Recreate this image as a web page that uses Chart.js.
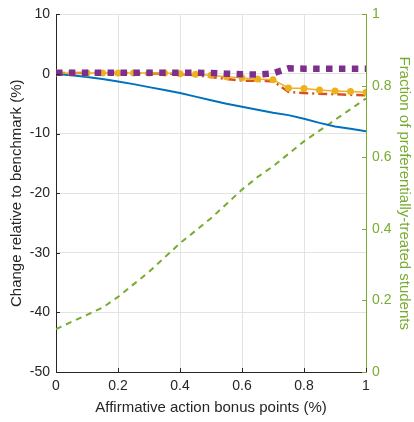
<!DOCTYPE html>
<html>
<head>
<meta charset="utf-8">
<script src="https://cdn.jsdelivr.net/npm/chart.js@4"></script>
<style>
  html, body { margin: 0; padding: 0; background: #ffffff; }
  #wrap { width: 414px; height: 422px; }
</style>
</head>
<body>
<div id="wrap"><canvas id="c" width="414" height="422"></canvas></div>
<script>
// Bonus points awarded (share of max score)
const bonusPoints = [0, 0.05, 0.1, 0.15, 0.2, 0.25, 0.3, 0.35, 0.4, 0.45, 0.5,
                     0.55, 0.6, 0.65, 0.7, 0.75, 0.8, 0.85, 0.9, 0.95, 1];

// Change relative to benchmark (%), left axis
const seriesBlue   = [0, -0.2, -0.5, -0.85, -1.25, -1.7, -2.2, -2.7, -3.2, -3.8, -4.4,
                      -5.0, -5.5, -6.0, -6.5, -6.9, -7.5, -8.2, -8.8, -9.2, -9.6];
const seriesRed    = [0.15, 0.15, 0.15, 0.15, 0.15, 0.15, 0.1, 0.05, 0, -0.2, -0.5,
                      -0.85, -1.1, -1.15, -1.2, -3.0, -3.2, -3.3, -3.4, -3.5, -3.55];
const seriesOrange = [0.17, 0.17, 0.17, 0.17, 0.17, 0.17, 0.17, 0.15, 0.05, -0.05, -0.2,
                      -0.45, -0.65, -0.85, -0.95, -2.35, -2.45, -2.7, -2.85, -2.95, -3.05];
const seriesPurple = [0.2, 0.2, 0.2, 0.2, 0.2, 0.2, 0.2, 0.2, 0.2, 0.2, 0.15,
                      0.05, -0.05, -0.1, 0.1, 0.95, 0.9, 0.9, 0.9, 0.9, 0.9];

// Fraction of preferentially-treated students, right axis
const fractionTreated = [0.12, 0.14, 0.16, 0.18, 0.21, 0.245, 0.28, 0.32, 0.36, 0.395, 0.43,
                         0.47, 0.51, 0.545, 0.575, 0.61, 0.645, 0.675, 0.705, 0.735, 0.765];

// Tick values
const xTicks      = [0, 0.2, 0.4, 0.6, 0.8, 1];
const leftTicks   = [-50, -40, -30, -20, -10, 0, 10];
const rightTicks  = [0, 0.2, 0.4, 0.6, 0.8, 1];

const DARK  = '#262626';
const GREEN = '#77AC30';
const GRID  = '#e3e3e3';
const FONT  = "'Liberation Sans', Arial, Helvetica, sans-serif";

const pts = arr => arr.map((v, i) => ({ x: bonusPoints[i], y: v }));
const fmt = v => String(Math.round(v * 10) / 10);

// Draws short tick marks pointing into the plot area
const inwardTicks = {
  id: 'inwardTicks',
  afterDatasetsDraw(chart) {
    const { ctx, chartArea: a, scales } = chart;
    const len = 4;
    ctx.save();
    ctx.lineWidth = 1;
    ctx.strokeStyle = DARK;
    ctx.beginPath();
    xTicks.forEach(t => {
      const px = Math.round(scales.x.getPixelForValue(t)) + 0.5;
      ctx.moveTo(px, a.bottom);
      ctx.lineTo(px, a.bottom - len);
    });
    leftTicks.forEach(t => {
      const py = Math.round(scales.y.getPixelForValue(t)) + 0.5;
      ctx.moveTo(a.left, py);
      ctx.lineTo(a.left + len, py);
    });
    ctx.stroke();
    ctx.strokeStyle = GREEN;
    ctx.beginPath();
    rightTicks.forEach(t => {
      const py = Math.round(scales.y1.getPixelForValue(t)) + 0.5;
      ctx.moveTo(a.right, py);
      ctx.lineTo(a.right - len, py);
    });
    ctx.stroke();
    ctx.restore();
  }
};

new Chart(document.getElementById('c'), {
  type: 'line',
  data: {
    datasets: [
      {
        data: pts(seriesPurple), borderColor: '#7E2F8E', borderWidth: 6.5,
        borderDash: [6.5, 6.4], borderCapStyle: 'butt', pointRadius: 0, tension: 0
      },
      {
        data: pts(seriesOrange), borderColor: '#EDB120', backgroundColor: '#EDB120',
        borderWidth: 1.5, pointRadius: 3.5, pointBorderWidth: 0, pointBackgroundColor: '#EDB120'
      },
      {
        data: pts(seriesRed), borderColor: '#D95319', borderWidth: 2.5,
        borderDash: [9, 4, 2, 4], pointRadius: 0
      },
      {
        data: pts(seriesBlue), borderColor: '#0072BD', borderWidth: 2, pointRadius: 0
      },
      {
        data: pts(fractionTreated), yAxisID: 'y1', borderColor: GREEN, borderWidth: 2,
        borderDash: [6, 5], pointRadius: 0
      }
    ]
  },
  options: {
    responsive: false,
    animation: false,
    devicePixelRatio: 1,
    layout: { padding: { top: 14, left: 0, right: 0, bottom: 0 } },
    plugins: { legend: { display: false }, tooltip: { enabled: false } },
    scales: {
      x: {
        type: 'linear', min: 0, max: 1,
        afterBuildTicks: s => { s.ticks = xTicks.map(v => ({ value: v })); },
        afterFit: s => { s.height = 50; },
        grid: { color: GRID, drawTicks: false },
        border: { color: DARK, width: 1 },
        ticks: { color: DARK, padding: 6, font: { family: FONT, size: 14 }, maxRotation: 0,
                 callback: v => fmt(v) },
        title: { display: true, text: 'Affirmative action bonus points (%)', color: DARK,
                 font: { family: FONT, size: 15 }, padding: { top: 0, bottom: 5 } }
      },
      y: {
        position: 'left', min: -50, max: 10,
        afterBuildTicks: s => { s.ticks = leftTicks.map(v => ({ value: v })); },
        afterFit: s => { s.width = 56; },
        grid: { color: GRID, drawTicks: false },
        border: { color: DARK, width: 1 },
        ticks: { color: DARK, padding: 6, font: { family: FONT, size: 14 }, callback: v => fmt(v) },
        title: { display: true, text: 'Change relative to benchmark (%)', color: DARK,
                 font: { family: FONT, size: 15 }, padding: { top: 8, bottom: 0 } }
      },
      y1: {
        position: 'right', min: 0, max: 1,
        afterBuildTicks: s => { s.ticks = rightTicks.map(v => ({ value: v })); },
        afterFit: s => { s.width = 48; },
        grid: { display: false, drawTicks: false },
        border: { color: GREEN, width: 1 },
        ticks: { color: GREEN, padding: 6, font: { family: FONT, size: 14 }, callback: v => fmt(v) },
        title: { display: true, text: 'Fraction of preferentially-treated students', color: GREEN,
                 font: { family: FONT, size: 15 }, padding: { top: 1, bottom: 0 } }
      }
    }
  },
  plugins: [inwardTicks]
});
</script>
</body>
</html>
